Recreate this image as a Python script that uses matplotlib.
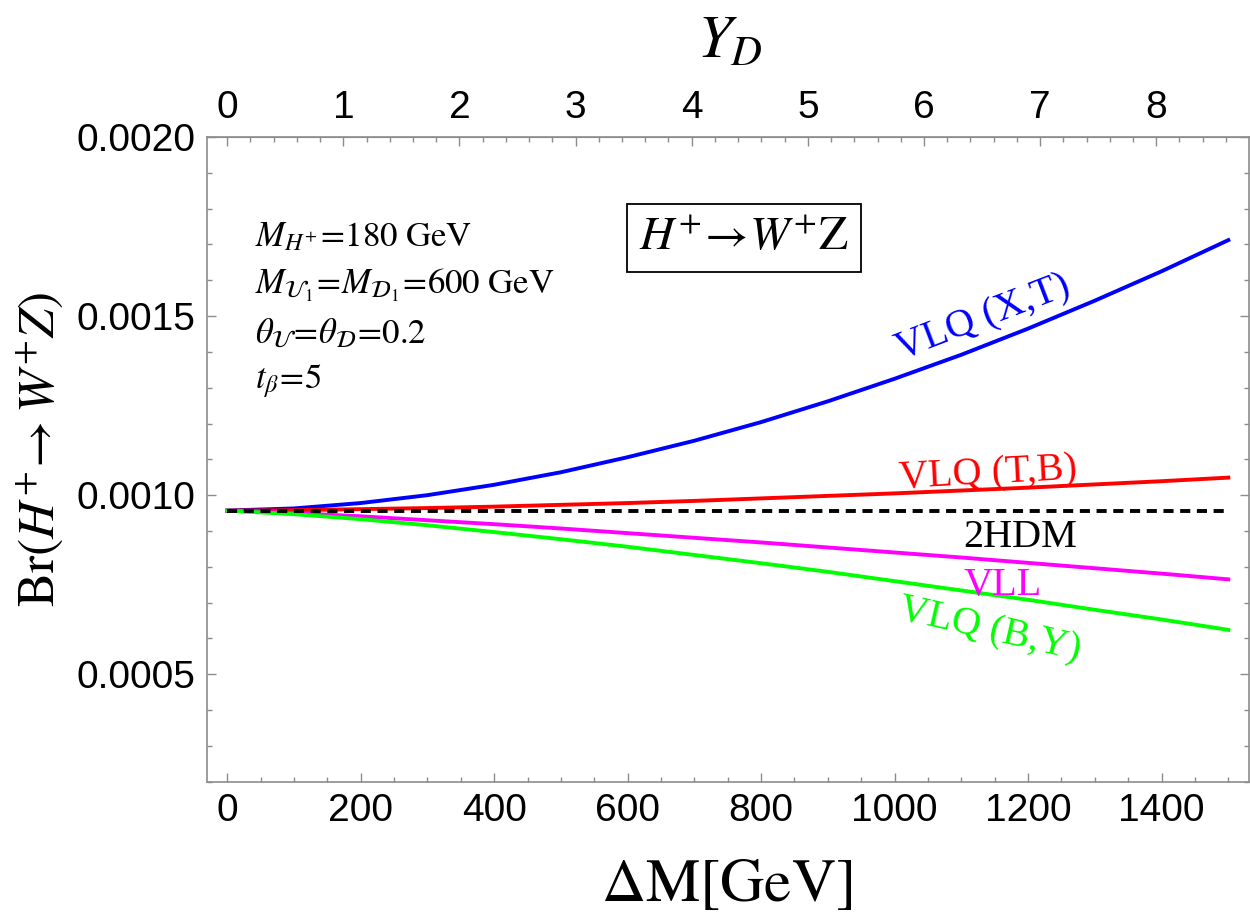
import matplotlib
matplotlib.use("Agg")
import matplotlib.pyplot as plt
from matplotlib.ticker import MultipleLocator, FixedLocator, FormatStrFormatter

# Values.
delta_m = [0, 100, 200, 300, 400, 500, 600, 700, 800, 900, 1000, 1100, 1200, 1300, 1400, 1500]
br_2hdm = [0.000957] * len(delta_m)
br_vlq_xt = [0.000957, 0.000963, 0.000978, 0.001000, 0.001029, 0.001064, 0.001106, 0.001152,
             0.001204, 0.001262, 0.001325, 0.001392, 0.001465, 0.001543, 0.001625, 0.001712]
br_vlq_tb = [0.000957, 0.000958, 0.000961, 0.000964, 0.000968, 0.000973, 0.000978, 0.000984,
             0.000991, 0.000998, 0.001005, 0.001013, 0.001021, 0.001030, 0.001039, 0.001049]
br_vll = [0.000957, 0.000950, 0.000941, 0.000930, 0.000919, 0.000907, 0.000894, 0.000881,
          0.000868, 0.000854, 0.000840, 0.000826, 0.000811, 0.000796, 0.000781, 0.000765]
br_vlq_by = [0.000957, 0.000947, 0.000933, 0.000916, 0.000897, 0.000877, 0.000856, 0.000833,
             0.000810, 0.000786, 0.000760, 0.000734, 0.000708, 0.000680, 0.000653, 0.000624]
yd_ticks = [0, 1, 2, 3, 4, 5, 6, 7, 8]

# Y_D = sqrt(2) * dM / v
yd_scale = 174.0

plt.rcParams["mathtext.fontset"] = "stix"
plt.rcParams["font.family"] = "Liberation Sans"

fig = plt.figure(figsize=(12.5, 9.21), dpi=100)
ax = fig.add_axes([0.1652, 0.1512, 0.834, 0.7001])

lw = 2.8
ax.plot(delta_m, br_vlq_xt, color="#0000ff", lw=lw)
ax.plot(delta_m, br_vlq_tb, color="#ff0000", lw=lw)
ax.plot(delta_m, br_vll, color="#ff00ff", lw=lw)
ax.plot(delta_m, br_vlq_by, color="#00ff00", lw=lw)
ax.plot(delta_m, br_2hdm, color="black", lw=lw, dashes=(2.6, 1.7))

ax.set_xlim(-31, 1531)
ax.set_ylim(0.0002, 0.0020)

# Axis ticks and frame, Mathematica style.
frame_color = "#8c8c8c"
for spine in ax.spines.values():
    spine.set_color(frame_color)
    spine.set_linewidth(1.2)
ax.xaxis.set_major_locator(MultipleLocator(200))
ax.xaxis.set_minor_locator(MultipleLocator(50))
ax.yaxis.set_major_locator(MultipleLocator(0.0005))
ax.yaxis.set_minor_locator(MultipleLocator(0.0001))
ax.yaxis.set_major_formatter(FormatStrFormatter("%.4f"))
ax.tick_params(which="both", direction="in", color=frame_color, right=True,
               labelsize=28, width=1.0)
ax.tick_params(which="major", length=6.5, pad=8)
ax.tick_params(which="minor", length=3.6)

top = ax.secondary_xaxis("top", functions=(lambda x: x / yd_scale, lambda y: y * yd_scale))
top.xaxis.set_major_locator(FixedLocator(yd_ticks))
top.xaxis.set_minor_locator(MultipleLocator(0.2))
top.tick_params(which="both", direction="in", color=frame_color, labelsize=28, width=1.0)
top.tick_params(which="major", length=6.5, pad=8)
top.tick_params(which="minor", length=3.6)
top.spines["top"].set_color(frame_color)

# Axis labels.
fig.text(727 / 1250, 1 - 885 / 921, r"$\Delta\mathrm{M[GeV]}$", fontsize=44,
         ha="center", va="center")
fig.text(730 / 1250, 1 - 42 / 921, r"$Y_D$", fontsize=44, ha="center", va="center")
fig.text(40 / 1250, 1 - 450 / 921, r"$\mathrm{Br}(H^{+}\!\rightarrow W^{+}Z)$", fontsize=37,
         ha="center", va="center", rotation=90)

# Parameter block.
params = [
    r"$M_{H^{+}}\!=\!180\ \mathrm{GeV}$",
    r"$M_{\mathcal{U}_1}\!=\!M_{\mathcal{D}_1}\!=\!600\ \mathrm{GeV}$",
    r"$\theta_{\mathcal{U}}\!=\!\theta_{\mathcal{D}}\!=\!0.2$",
    r"$t_{\beta}\!=\!5$",
]
for i, line in enumerate(params):
    fig.text(255 / 1250, 1 - (237 + 48 * i) / 921, line, fontsize=25, ha="left", va="center")

fig.text(744 / 1250, 1 - 238 / 921, r"$H^{+}\!\rightarrow\! W^{+}\mathrm{Z}$", fontsize=34,
         ha="center", va="center",
         bbox=dict(boxstyle="square,pad=0.25", facecolor="white", edgecolor="black", lw=1.3))

# Curve labels.
label_font = dict(fontsize=29, family="Liberation Serif", ha="center", va="center")
fig.text(983 / 1250, 1 - 318 / 921, "VLQ (X,T)", color="#0000ff", rotation=21, **label_font)
fig.text(988 / 1250, 1 - 474 / 921, "VLQ (T,B)", color="#ff0000", rotation=3, **label_font)
fig.text(1020 / 1250, 1 - 537 / 921, "2HDM", color="black", **label_font)
fig.text(1003 / 1250, 1 - 585 / 921, "VLL", color="#ff00ff", **label_font)
fig.text(990 / 1250, 1 - 630 / 921, "VLQ (B,Y)", color="#00ff00", rotation=-13, **label_font)

fig.savefig("out.png", dpi=100, facecolor="white")
